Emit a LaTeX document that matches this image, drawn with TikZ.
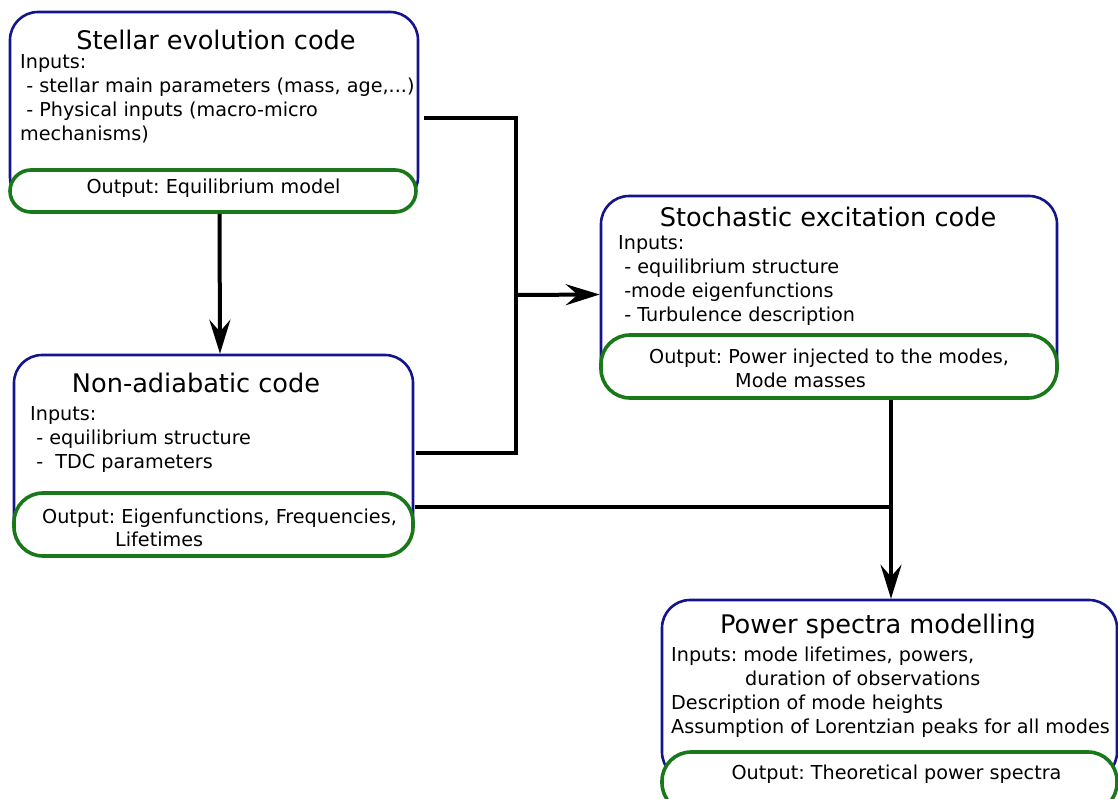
\documentclass[tikz,border=0pt]{standalone}
\usepackage{fontspec}
\setmainfont{DejaVu Sans}
\usetikzlibrary{arrows.meta}
\definecolor{boxblue}{RGB}{20,20,140}
\definecolor{outgreen}{RGB}{25,120,25}
\frenchspacing

\begin{document}
\begin{tikzpicture}[x=1pt,y=-1pt,>={Stealth[length=34pt,width=21pt,inset=12pt]},
  code box/.style={draw=boxblue,line width=2.6pt,rounded corners=28pt,inner sep=0pt,fill=white},
  output box/.style={draw=outgreen,line width=3.6pt,rounded corners=29pt,fill=white,inner sep=0pt},
  output text/.style={font=\fontsize{19.2}{23.5}\selectfont,align=left,inner sep=0pt},
  title text/.style={font=\fontsize{25.6}{30}\selectfont,inner sep=0pt},
  input text/.style={font=\fontsize{19.2}{24}\selectfont,align=left,inner sep=0pt,anchor=north west},
  link/.style={line width=4pt}]

  \useasboundingbox (0,0) rectangle (1118,798);
  \clip (0,0) rectangle (1118,798);

  \node[code box,minimum width=408pt,minimum height=193pt] (sec) at (214,108.5) {};
  \node[output box,rounded corners=21pt,minimum width=406pt,minimum height=42pt] (secout) at (213,191) {};
  \node[title text] (sectitle) at (216,40) {Stellar evolution code};
  \node[input text] (secin) at (20,54) {Inputs:\\ \ - stellar main parameters (mass, age,...)\\ \ - Physical inputs (macro-micro\\mechanisms)};
  \node[output text] (secoutlabel) at (213.5,188.5) {Output: Equilibrium model};

  \node[code box,minimum width=399pt,minimum height=195pt] (nad) at (213.5,452.5) {};
  \node[output box,minimum width=399pt,minimum height=63pt] (nadout) at (213.5,524.5) {};
  \node[title text] (nadtitle) at (196,383) {Non-adiabatic code};
  \node[input text] (nadin) at (30,406) {Inputs:\\ \ - equilibrium structure\\ \ -\ \ TDC parameters};
  \node[output text,anchor=west] (nadoutlabel) at (42,528) {Output: Eigenfunctions, Frequencies,\\\hspace*{73pt}Lifetimes};

  \node[code box,minimum width=456pt,minimum height=197pt] (stoch) at (829,294.5) {};
  \node[output box,minimum width=456pt,minimum height=63pt] (stochout) at (829,366.5) {};
  \node[title text] (stochtitle) at (828,217) {Stochastic excitation code};
  \node[input text] (stochin) at (618,235) {Inputs:\\ \ - equilibrium structure\\ \ -mode eigenfunctions\\ \ - Turbulence description};
  \node[output text,anchor=west] (stochoutlabel) at (649,368.5) {Output: Power injected to the modes,\\\hspace*{86pt}Mode masses};

  \node[code box,minimum width=455pt,minimum height=180pt] (pso) at (889.5,690) {};
  \node[output box,minimum width=455pt,minimum height=60pt] (psout) at (889.5,782) {};
  \node[title text] (psotitle) at (878,626) {Power spectra modelling};
  \node[input text] (psoin) at (671,647) {Inputs: mode lifetimes, powers,\\\hspace*{74pt}duration of observations\\Description of mode heights\\Assumption of Lorentzian peaks for all modes};
  \node[output text] (psoutlabel) at (896.5,774) {Output: Theoretical power spectra};

  \coordinate (split) at (516,295);
  \coordinate (merge) at (891,507);

  \draw[link,->] ([xshift=6.5pt]secout.south) -- ([xshift=6.5pt]nad.north);
  \draw[link] ([xshift=5pt,yshift=-9.5pt]sec.east) -| (split) |- ([xshift=2pt]nad.east);
  \draw[link,->] (split) -- (stoch.west);
  \draw[link] ([yshift=17.5pt]nadout.east) -- (merge);
  \draw[link,->] (stochout.south -| merge) -- (pso.north -| merge);
\end{tikzpicture}
\end{document}
